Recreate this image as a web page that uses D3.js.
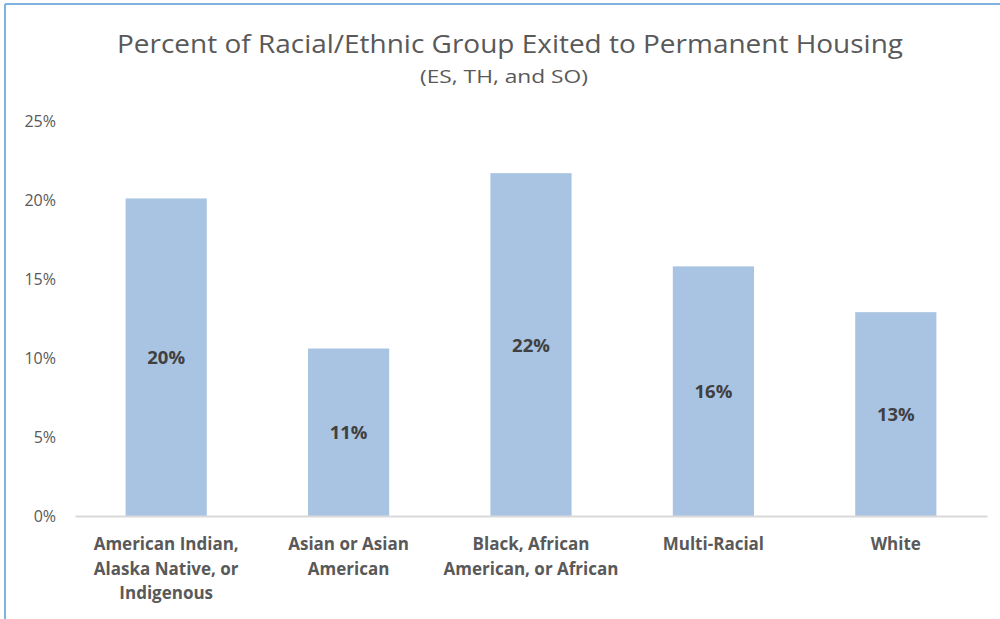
<!DOCTYPE html>
<html>
<head>
<meta charset="utf-8">
<script src="https://cdn.jsdelivr.net/npm/d3@7"></script>
<style>
  html, body { margin: 0; padding: 0; background: #ffffff; }
  svg { display: block; }
</style>
</head>
<body>
<script>
const categories = [
  ["American Indian,", "Alaska Native, or", "Indigenous"],
  ["Asian or Asian", "American"],
  ["Black, African", "American, or African"],
  ["Multi-Racial"],
  ["White"]
];
const values = [0.201, 0.106, 0.217, 0.158, 0.129];
const valueLabels = ["20%", "11%", "22%", "16%", "13%"];
const yTicks = [0, 0.05, 0.10, 0.15, 0.20, 0.25];
const title = "Percent of Racial/Ethnic Group Exited to Permanent Housing";
const subtitle = "(ES, TH, and SO)";

(function () {
const W = 1000, H = 619;
const font = "'Open Sans', 'Noto Sans', sans-serif";
const svg = d3.select("body").append("svg").attr("width", W).attr("height", H);

// border
svg.append("line").attr("x1", 5).attr("x2", W).attr("y1", 4).attr("y2", 4)
  .attr("stroke", "#7fb2e0").attr("stroke-width", 2);
svg.append("line").attr("x1", 5).attr("x2", 5).attr("y1", 4).attr("y2", H)
  .attr("stroke", "#7fb2e0").attr("stroke-width", 2);

const mLeft = 75, mRight = 987, mTop = 121, mBottom = 516;
const x = d3.scaleBand().domain(d3.range(categories.length)).range([mLeft, mRight])
  .paddingInner(0.555).paddingOuter(0.2775);
const y = d3.scaleLinear().domain([0, 0.25]).range([mBottom, mTop]);

// title
svg.append("text").attr("x", 510).attr("y", 53).attr("text-anchor", "middle")
  .attr("font-family", font).attr("font-size", 26).attr("fill", "#595959")
  .attr("textLength", 786).attr("lengthAdjust", "spacingAndGlyphs")
  .text(title);
svg.append("text").attr("x", 504).attr("y", 83).attr("text-anchor", "middle")
  .attr("font-family", font).attr("font-size", 18).attr("fill", "#595959")
  .attr("textLength", 168).attr("lengthAdjust", "spacingAndGlyphs")
  .text(subtitle);

// y axis
const yAxis = d3.axisLeft(y).tickValues(yTicks).tickFormat(d3.format(".0%")).tickSize(0).tickPadding(0);
const gy = svg.append("g").attr("transform", `translate(56,0)`).call(yAxis);
gy.select(".domain").remove();
gy.selectAll("text").attr("font-family", font).attr("font-size", 16).attr("fill", "#595959");

// bars
svg.selectAll("rect.bar").data(values).join("rect").attr("class", "bar")
  .attr("x", (d, i) => x(i)).attr("width", x.bandwidth())
  .attr("y", d => y(d)).attr("height", d => y(0) - y(d))
  .attr("fill", "#a9c4e2");

// baseline
const xAxis = d3.axisBottom(x).tickSize(0).tickFormat("");
const gx = svg.append("g").attr("transform", `translate(0,${mBottom})`).call(xAxis);
gx.select(".domain").attr("stroke", "#d9d9d9").attr("stroke-width", 2);

// value labels
svg.selectAll("text.val").data(values).join("text").attr("class", "val")
  .attr("x", (d, i) => x(i) + x.bandwidth() / 2)
  .attr("y", d => (y(d) + y(0)) / 2)
  .attr("dy", "0.38em").attr("text-anchor", "middle")
  .attr("font-family", font).attr("font-size", 18.5).attr("font-weight", "bold")
  .attr("fill", "#404040")
  .text((d, i) => valueLabels[i]);

// category labels
const cl = svg.selectAll("text.cat").data(categories).join("text").attr("class", "cat")
  .attr("text-anchor", "middle")
  .attr("font-family", font).attr("font-size", 17).attr("font-weight", "bold")
  .attr("fill", "#595959");
cl.each(function(lines, i) {
  const t = d3.select(this);
  lines.forEach((ln, j) => {
    t.append("tspan").attr("x", x(i) + x.bandwidth() / 2).attr("y", 550 + j * 24.5).text(ln);
  });
});
})();
</script>
</body>
</html>
